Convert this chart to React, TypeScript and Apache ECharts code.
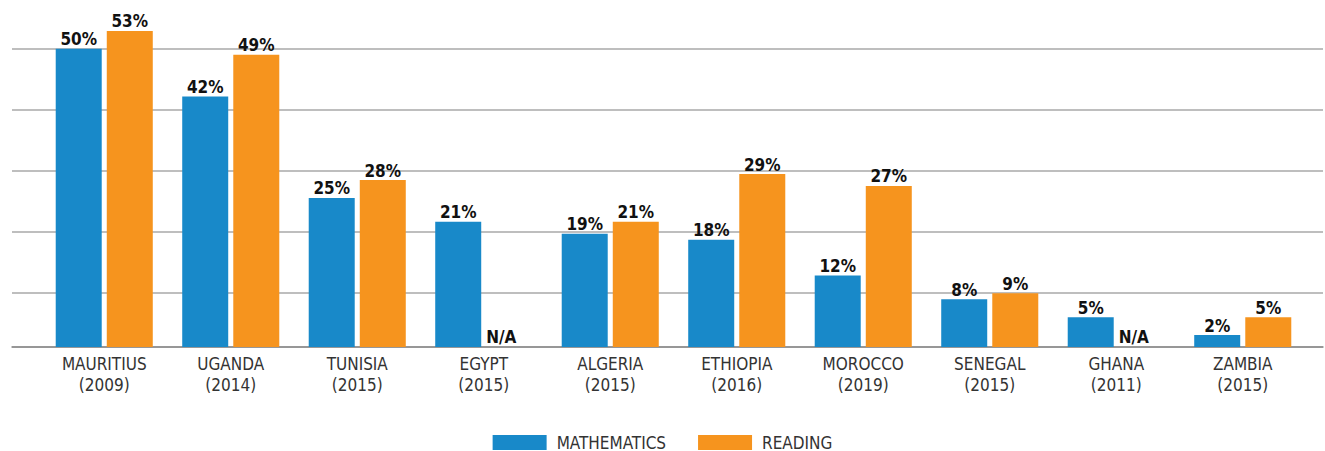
import React, { useEffect, useRef } from "react";
import * as echarts from "echarts";

const categories = [
  "MAURITIUS\n(2009)",
  "UGANDA\n(2014)",
  "TUNISIA\n(2015)",
  "EGYPT\n(2015)",
  "ALGERIA\n(2015)",
  "ETHIOPIA\n(2016)",
  "MOROCCO\n(2019)",
  "SENEGAL\n(2015)",
  "GHANA\n(2011)",
  "ZAMBIA\n(2015)",
];
const mathematics: number[] = [50, 42, 25, 21, 19, 18, 12, 8, 5, 2];
const reading: (number | null)[] = [53, 49, 28, null, 21, 29, 27, 9, null, 5];

const FONT = "'Liberation Sans Narrow', 'DejaVu Sans Condensed', Roboto, sans-serif";
const BLUE = "#1889c9";
const ORANGE = "#f6941e";

export default function App() {
  const ref = useRef<HTMLDivElement>(null);
  useEffect(() => {
    if (!ref.current) return;
    const chart = echarts.init(ref.current, undefined, { renderer: "svg" });
    const valueLabel = {
      show: true,
      position: "top" as const,
      distance: 1,
      fontFamily: FONT,
      fontWeight: "bold" as const,
      fontSize: 17,
      color: "#111",
      formatter: (p: any) => `${p.value}%`,
    };
    chart.setOption({
      animation: false,
      backgroundColor: "#fff",
      textStyle: { fontFamily: FONT },
      legend: {
        bottom: 0,
        left: "center",
        padding: 0,
        itemWidth: 54,
        itemHeight: 15,
        itemGap: 32,
        icon: "rect",
        textStyle: { fontFamily: FONT, fontSize: 17, color: "#333", padding: [0, 0, 0, 5] },
        data: ["MATHEMATICS", "READING"],
      },
      grid: [
        { left: 41, right: 19, top: 19, bottom: 104 },
        { left: 12, right: 2, top: 49, bottom: 104 },
      ],
      xAxis: [
        {
          type: "category",
          gridIndex: 0,
          data: categories,
          axisLine: { show: false },
          axisTick: { show: false },
          axisLabel: {
            margin: 6,
            fontFamily: FONT,
            fontSize: 17,
            lineHeight: 21,
            color: "#333",
            interval: 0,
          },
        },
        {
          type: "category",
          gridIndex: 1,
          data: ["a"],
          axisLine: { show: true, onZero: false, lineStyle: { color: "#8a8a8a", width: 1.5 } },
          axisTick: { show: false },
          axisLabel: { show: false },
        },
      ],
      yAxis: [
        {
          type: "value",
          gridIndex: 0,
          min: 0,
          max: 55,
          show: false,
          splitLine: { show: false },
        },
        {
          type: "value",
          gridIndex: 1,
          inverse: true,
          min: 0,
          max: 4.885,
          interval: 1,
          axisLine: { show: false },
          axisTick: { show: false },
          axisLabel: { show: false },
          splitLine: { show: true, lineStyle: { color: "#a8a8a8", width: 1.5 } },
        },
      ],
      series: [
        {
          name: "MATHEMATICS",
          type: "bar",
          xAxisIndex: 0,
          yAxisIndex: 0,
          barWidth: 46,
          barGap: "11%",
          itemStyle: { color: BLUE },
          label: valueLabel,
          data: mathematics,
          z: 3,
        },
        {
          name: "READING",
          type: "bar",
          xAxisIndex: 0,
          yAxisIndex: 0,
          barWidth: 46,
          barGap: "11%",
          itemStyle: { color: ORANGE },
          label: valueLabel,
          z: 3,
          data: reading.map((v) =>
            v === null
              ? { value: 0, label: { formatter: "N/A", offset: [-8, -1] } }
              : v
          ),
        },
      ],
    });
    return () => chart.dispose();
  }, []);
  return (
    <div
      ref={ref}
      style={{ position: "absolute", left: 0, top: 0, width: 1325, height: 451 }}
    />
  );
}
